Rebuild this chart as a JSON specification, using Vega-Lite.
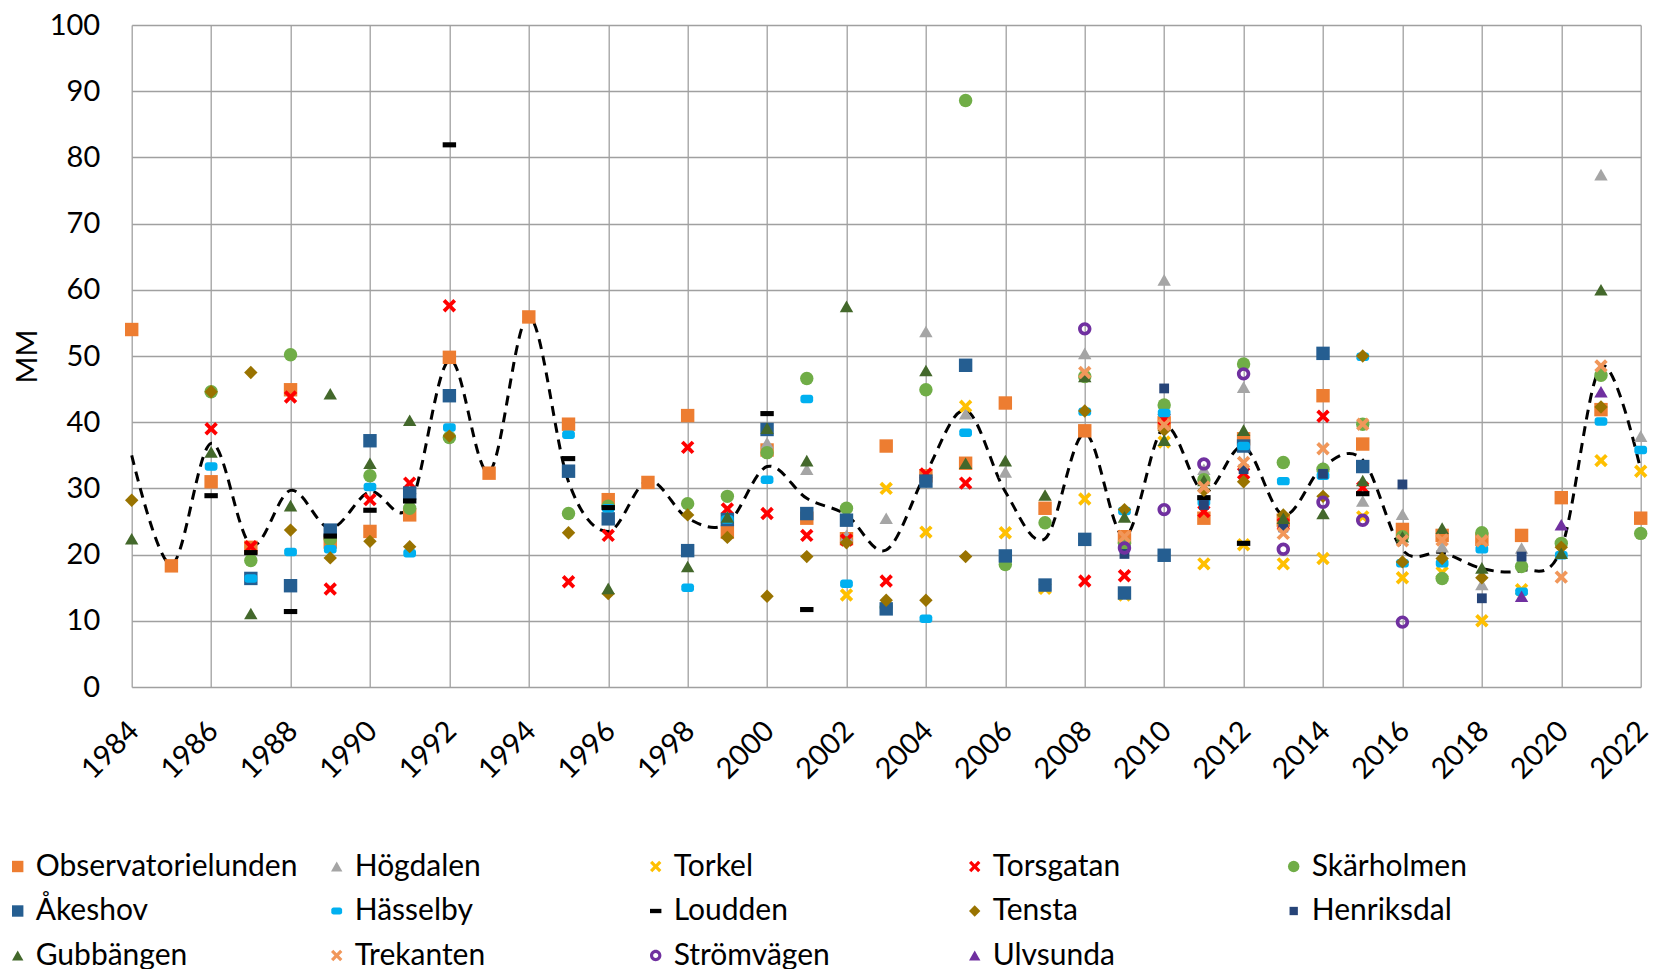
{
  "$schema": "https://vega.github.io/schema/vega-lite/v6.json",
  "width": 1509,
  "height": 662,
  "autosize": {"type": "none"},
  "padding": {"left": 131.7, "top": 25, "right": 20.3, "bottom": 282},
  "background": "white",
  "config": {
    "font": "Lato",
    "view": {"stroke": null},
    "axis": {
      "labelFont": "Lato", "labelFontSize": 29, "labelColor": "#000000",
      "titleFont": "Lato", "titleFontSize": 29, "titleColor": "#000000", "titleFontWeight": "normal",
      "gridColor": "#A0A0A0", "gridWidth": 1.3, "domain": false, "ticks": false, "tickSize": 0
    },
    "legend": {"labelFont": "Lato", "labelFontSize": 30, "labelColor": "#000000"}
  },
  "datasets": {
    "trend": [
      {"year": 1984, "mm": 35.0}, {"year": 1985, "mm": 18.5}, {"year": 1986, "mm": 36.8}, {"year": 1987, "mm": 21.5},
      {"year": 1988, "mm": 29.7}, {"year": 1989, "mm": 24.0}, {"year": 1990, "mm": 29.5}, {"year": 1991, "mm": 27.3},
      {"year": 1992, "mm": 49.4}, {"year": 1993, "mm": 32.5}, {"year": 1994, "mm": 56.0}, {"year": 1995, "mm": 31.0},
      {"year": 1996, "mm": 23.5}, {"year": 1997, "mm": 31.2}, {"year": 1998, "mm": 25.5}, {"year": 1999, "mm": 24.7},
      {"year": 2000, "mm": 33.3}, {"year": 2001, "mm": 28.5}, {"year": 2002, "mm": 26.0}, {"year": 2003, "mm": 20.7},
      {"year": 2004, "mm": 32.3}, {"year": 2005, "mm": 41.8}, {"year": 2006, "mm": 29.5}, {"year": 2007, "mm": 22.4},
      {"year": 2008, "mm": 38.3}, {"year": 2009, "mm": 22.7}, {"year": 2010, "mm": 39.3}, {"year": 2011, "mm": 29.5},
      {"year": 2012, "mm": 36.3}, {"year": 2013, "mm": 26.0}, {"year": 2014, "mm": 33.3}, {"year": 2015, "mm": 34.3},
      {"year": 2016, "mm": 20.7}, {"year": 2017, "mm": 20.3}, {"year": 2018, "mm": 17.9}, {"year": 2019, "mm": 17.6},
      {"year": 2020, "mm": 20.9}, {"year": 2021, "mm": 48.4}, {"year": 2022, "mm": 32.8}
    ],
    "pts": [
      {"station": "Observatorielunden", "year": 1984, "mm": 54.0},
      {"station": "Observatorielunden", "year": 1985, "mm": 18.3},
      {"station": "Observatorielunden", "year": 1986, "mm": 31.0},
      {"station": "Observatorielunden", "year": 1987, "mm": 21.1},
      {"station": "Observatorielunden", "year": 1988, "mm": 44.9},
      {"station": "Observatorielunden", "year": 1989, "mm": 21.9},
      {"station": "Observatorielunden", "year": 1990, "mm": 23.5},
      {"station": "Observatorielunden", "year": 1991, "mm": 26.0},
      {"station": "Observatorielunden", "year": 1992, "mm": 49.8},
      {"station": "Observatorielunden", "year": 1993, "mm": 32.3},
      {"station": "Observatorielunden", "year": 1994, "mm": 55.9},
      {"station": "Observatorielunden", "year": 1995, "mm": 39.7},
      {"station": "Observatorielunden", "year": 1996, "mm": 28.3},
      {"station": "Observatorielunden", "year": 1997, "mm": 30.9},
      {"station": "Observatorielunden", "year": 1998, "mm": 41.0},
      {"station": "Observatorielunden", "year": 1999, "mm": 23.4},
      {"station": "Observatorielunden", "year": 2000, "mm": 35.8},
      {"station": "Observatorielunden", "year": 2001, "mm": 25.5},
      {"station": "Observatorielunden", "year": 2002, "mm": 22.4},
      {"station": "Observatorielunden", "year": 2003, "mm": 36.4},
      {"station": "Observatorielunden", "year": 2004, "mm": 31.9},
      {"station": "Observatorielunden", "year": 2005, "mm": 33.8},
      {"station": "Observatorielunden", "year": 2006, "mm": 42.9},
      {"station": "Observatorielunden", "year": 2007, "mm": 27.0},
      {"station": "Observatorielunden", "year": 2008, "mm": 38.7},
      {"station": "Observatorielunden", "year": 2009, "mm": 22.7},
      {"station": "Observatorielunden", "year": 2010, "mm": 39.9},
      {"station": "Observatorielunden", "year": 2011, "mm": 25.5},
      {"station": "Observatorielunden", "year": 2012, "mm": 37.5},
      {"station": "Observatorielunden", "year": 2013, "mm": 25.2},
      {"station": "Observatorielunden", "year": 2014, "mm": 44.0},
      {"station": "Observatorielunden", "year": 2015, "mm": 36.7},
      {"station": "Observatorielunden", "year": 2016, "mm": 23.8},
      {"station": "Observatorielunden", "year": 2017, "mm": 22.9},
      {"station": "Observatorielunden", "year": 2018, "mm": 22.3},
      {"station": "Observatorielunden", "year": 2019, "mm": 22.9},
      {"station": "Observatorielunden", "year": 2020, "mm": 28.6},
      {"station": "Observatorielunden", "year": 2021, "mm": 41.9},
      {"station": "Observatorielunden", "year": 2022, "mm": 25.5},

      {"station": "Högdalen", "year": 2000, "mm": 36.9},
      {"station": "Högdalen", "year": 2001, "mm": 32.9},
      {"station": "Högdalen", "year": 2002, "mm": 22.9},
      {"station": "Högdalen", "year": 2003, "mm": 25.5},
      {"station": "Högdalen", "year": 2004, "mm": 53.7},
      {"station": "Högdalen", "year": 2005, "mm": 41.3},
      {"station": "Högdalen", "year": 2006, "mm": 32.5},
      {"station": "Högdalen", "year": 2008, "mm": 50.4},
      {"station": "Högdalen", "year": 2010, "mm": 61.5},
      {"station": "Högdalen", "year": 2011, "mm": 32.9},
      {"station": "Högdalen", "year": 2012, "mm": 45.3},
      {"station": "Högdalen", "year": 2014, "mm": 33.3},
      {"station": "Högdalen", "year": 2015, "mm": 28.1},
      {"station": "Högdalen", "year": 2016, "mm": 26.1},
      {"station": "Högdalen", "year": 2017, "mm": 21.2},
      {"station": "Högdalen", "year": 2018, "mm": 15.5},
      {"station": "Högdalen", "year": 2019, "mm": 21.0},
      {"station": "Högdalen", "year": 2021, "mm": 77.4},
      {"station": "Högdalen", "year": 2022, "mm": 37.9},

      {"station": "Torkel", "year": 2002, "mm": 13.9},
      {"station": "Torkel", "year": 2003, "mm": 30.0},
      {"station": "Torkel", "year": 2004, "mm": 23.4},
      {"station": "Torkel", "year": 2005, "mm": 42.4},
      {"station": "Torkel", "year": 2006, "mm": 23.3},
      {"station": "Torkel", "year": 2007, "mm": 14.9},
      {"station": "Torkel", "year": 2008, "mm": 28.4},
      {"station": "Torkel", "year": 2009, "mm": 13.9},
      {"station": "Torkel", "year": 2010, "mm": 37.0},
      {"station": "Torkel", "year": 2011, "mm": 18.6},
      {"station": "Torkel", "year": 2012, "mm": 21.5},
      {"station": "Torkel", "year": 2013, "mm": 18.6},
      {"station": "Torkel", "year": 2014, "mm": 19.4},
      {"station": "Torkel", "year": 2015, "mm": 25.7},
      {"station": "Torkel", "year": 2016, "mm": 16.5},
      {"station": "Torkel", "year": 2017, "mm": 17.3},
      {"station": "Torkel", "year": 2018, "mm": 10.0},
      {"station": "Torkel", "year": 2019, "mm": 14.7},
      {"station": "Torkel", "year": 2021, "mm": 34.2},
      {"station": "Torkel", "year": 2022, "mm": 32.6},

      {"station": "Torsgatan", "year": 1986, "mm": 39.0},
      {"station": "Torsgatan", "year": 1987, "mm": 21.2},
      {"station": "Torsgatan", "year": 1988, "mm": 43.8},
      {"station": "Torsgatan", "year": 1989, "mm": 14.8},
      {"station": "Torsgatan", "year": 1990, "mm": 28.3},
      {"station": "Torsgatan", "year": 1991, "mm": 30.8},
      {"station": "Torsgatan", "year": 1992, "mm": 57.6},
      {"station": "Torsgatan", "year": 1995, "mm": 15.9},
      {"station": "Torsgatan", "year": 1996, "mm": 22.9},
      {"station": "Torsgatan", "year": 1998, "mm": 36.2},
      {"station": "Torsgatan", "year": 1999, "mm": 26.9},
      {"station": "Torsgatan", "year": 2000, "mm": 26.2},
      {"station": "Torsgatan", "year": 2001, "mm": 22.9},
      {"station": "Torsgatan", "year": 2002, "mm": 22.2},
      {"station": "Torsgatan", "year": 2003, "mm": 16.0},
      {"station": "Torsgatan", "year": 2004, "mm": 32.2},
      {"station": "Torsgatan", "year": 2005, "mm": 30.8},
      {"station": "Torsgatan", "year": 2008, "mm": 16.0},
      {"station": "Torsgatan", "year": 2009, "mm": 16.8},
      {"station": "Torsgatan", "year": 2010, "mm": 40.5},
      {"station": "Torsgatan", "year": 2011, "mm": 26.5},
      {"station": "Torsgatan", "year": 2012, "mm": 32.3},
      {"station": "Torsgatan", "year": 2013, "mm": 24.6},
      {"station": "Torsgatan", "year": 2014, "mm": 40.9},
      {"station": "Torsgatan", "year": 2015, "mm": 30.1},

      {"station": "Skärholmen", "year": 1986, "mm": 44.6},
      {"station": "Skärholmen", "year": 1987, "mm": 19.1},
      {"station": "Skärholmen", "year": 1988, "mm": 50.2},
      {"station": "Skärholmen", "year": 1989, "mm": 22.3},
      {"station": "Skärholmen", "year": 1990, "mm": 31.9},
      {"station": "Skärholmen", "year": 1991, "mm": 27.0},
      {"station": "Skärholmen", "year": 1992, "mm": 37.7},
      {"station": "Skärholmen", "year": 1995, "mm": 26.2},
      {"station": "Skärholmen", "year": 1996, "mm": 27.3},
      {"station": "Skärholmen", "year": 1998, "mm": 27.7},
      {"station": "Skärholmen", "year": 1999, "mm": 28.8},
      {"station": "Skärholmen", "year": 2000, "mm": 35.4},
      {"station": "Skärholmen", "year": 2001, "mm": 46.6},
      {"station": "Skärholmen", "year": 2002, "mm": 27.0},
      {"station": "Skärholmen", "year": 2003, "mm": 12.1},
      {"station": "Skärholmen", "year": 2004, "mm": 44.9},
      {"station": "Skärholmen", "year": 2005, "mm": 88.6},
      {"station": "Skärholmen", "year": 2006, "mm": 18.5},
      {"station": "Skärholmen", "year": 2007, "mm": 24.8},
      {"station": "Skärholmen", "year": 2008, "mm": 46.9},
      {"station": "Skärholmen", "year": 2009, "mm": 21.7},
      {"station": "Skärholmen", "year": 2010, "mm": 42.6},
      {"station": "Skärholmen", "year": 2011, "mm": 31.3},
      {"station": "Skärholmen", "year": 2012, "mm": 48.8},
      {"station": "Skärholmen", "year": 2013, "mm": 33.9},
      {"station": "Skärholmen", "year": 2014, "mm": 32.9},
      {"station": "Skärholmen", "year": 2015, "mm": 39.7},
      {"station": "Skärholmen", "year": 2016, "mm": 22.7},
      {"station": "Skärholmen", "year": 2017, "mm": 16.4},
      {"station": "Skärholmen", "year": 2018, "mm": 23.3},
      {"station": "Skärholmen", "year": 2019, "mm": 18.2},
      {"station": "Skärholmen", "year": 2020, "mm": 21.7},
      {"station": "Skärholmen", "year": 2021, "mm": 47.1},
      {"station": "Skärholmen", "year": 2022, "mm": 23.2},

      {"station": "Åkeshov", "year": 1987, "mm": 16.4},
      {"station": "Åkeshov", "year": 1988, "mm": 15.3},
      {"station": "Åkeshov", "year": 1989, "mm": 23.7},
      {"station": "Åkeshov", "year": 1990, "mm": 37.2},
      {"station": "Åkeshov", "year": 1991, "mm": 29.3},
      {"station": "Åkeshov", "year": 1992, "mm": 44.0},
      {"station": "Åkeshov", "year": 1995, "mm": 32.6},
      {"station": "Åkeshov", "year": 1996, "mm": 25.4},
      {"station": "Åkeshov", "year": 1998, "mm": 20.6},
      {"station": "Åkeshov", "year": 1999, "mm": 25.3},
      {"station": "Åkeshov", "year": 2000, "mm": 38.9},
      {"station": "Åkeshov", "year": 2001, "mm": 26.2},
      {"station": "Åkeshov", "year": 2002, "mm": 25.2},
      {"station": "Åkeshov", "year": 2003, "mm": 11.8},
      {"station": "Åkeshov", "year": 2004, "mm": 31.1},
      {"station": "Åkeshov", "year": 2005, "mm": 48.6},
      {"station": "Åkeshov", "year": 2006, "mm": 19.8},
      {"station": "Åkeshov", "year": 2007, "mm": 15.4},
      {"station": "Åkeshov", "year": 2008, "mm": 22.3},
      {"station": "Åkeshov", "year": 2009, "mm": 14.2},
      {"station": "Åkeshov", "year": 2010, "mm": 19.9},
      {"station": "Åkeshov", "year": 2012, "mm": 36.4},
      {"station": "Åkeshov", "year": 2014, "mm": 50.4},
      {"station": "Åkeshov", "year": 2015, "mm": 33.3},

      {"station": "Hässelby", "year": 1986, "mm": 33.3},
      {"station": "Hässelby", "year": 1987, "mm": 16.4},
      {"station": "Hässelby", "year": 1988, "mm": 20.4},
      {"station": "Hässelby", "year": 1989, "mm": 20.8},
      {"station": "Hässelby", "year": 1990, "mm": 30.2},
      {"station": "Hässelby", "year": 1991, "mm": 20.2},
      {"station": "Hässelby", "year": 1992, "mm": 39.2},
      {"station": "Hässelby", "year": 1995, "mm": 38.1},
      {"station": "Hässelby", "year": 1996, "mm": 27.0},
      {"station": "Hässelby", "year": 1998, "mm": 15.0},
      {"station": "Hässelby", "year": 1999, "mm": 25.3},
      {"station": "Hässelby", "year": 2000, "mm": 31.3},
      {"station": "Hässelby", "year": 2001, "mm": 43.5},
      {"station": "Hässelby", "year": 2002, "mm": 15.6},
      {"station": "Hässelby", "year": 2004, "mm": 10.3},
      {"station": "Hässelby", "year": 2005, "mm": 38.4},
      {"station": "Hässelby", "year": 2008, "mm": 41.6},
      {"station": "Hässelby", "year": 2009, "mm": 26.6},
      {"station": "Hässelby", "year": 2010, "mm": 41.4},
      {"station": "Hässelby", "year": 2011, "mm": 27.9},
      {"station": "Hässelby", "year": 2012, "mm": 36.4},
      {"station": "Hässelby", "year": 2013, "mm": 31.1},
      {"station": "Hässelby", "year": 2014, "mm": 31.9},
      {"station": "Hässelby", "year": 2015, "mm": 49.9},
      {"station": "Hässelby", "year": 2016, "mm": 18.7},
      {"station": "Hässelby", "year": 2017, "mm": 18.7},
      {"station": "Hässelby", "year": 2018, "mm": 20.8},
      {"station": "Hässelby", "year": 2019, "mm": 14.4},
      {"station": "Hässelby", "year": 2020, "mm": 19.9},
      {"station": "Hässelby", "year": 2021, "mm": 40.1},
      {"station": "Hässelby", "year": 2022, "mm": 35.8},

      {"station": "Loudden", "year": 1986, "mm": 28.9},
      {"station": "Loudden", "year": 1987, "mm": 20.3},
      {"station": "Loudden", "year": 1988, "mm": 11.4},
      {"station": "Loudden", "year": 1989, "mm": 22.8},
      {"station": "Loudden", "year": 1990, "mm": 26.7},
      {"station": "Loudden", "year": 1991, "mm": 28.1},
      {"station": "Loudden", "year": 1992, "mm": 81.9},
      {"station": "Loudden", "year": 1995, "mm": 34.5},
      {"station": "Loudden", "year": 1996, "mm": 27.1},
      {"station": "Loudden", "year": 2000, "mm": 41.3},
      {"station": "Loudden", "year": 2001, "mm": 11.7},
      {"station": "Loudden", "year": 2011, "mm": 28.6},
      {"station": "Loudden", "year": 2012, "mm": 21.7},
      {"station": "Loudden", "year": 2015, "mm": 29.2},

      {"station": "Tensta", "year": 1984, "mm": 28.2},
      {"station": "Tensta", "year": 1986, "mm": 44.6},
      {"station": "Tensta", "year": 1987, "mm": 47.5},
      {"station": "Tensta", "year": 1988, "mm": 23.7},
      {"station": "Tensta", "year": 1989, "mm": 19.5},
      {"station": "Tensta", "year": 1990, "mm": 22.0},
      {"station": "Tensta", "year": 1991, "mm": 21.2},
      {"station": "Tensta", "year": 1992, "mm": 37.9},
      {"station": "Tensta", "year": 1995, "mm": 23.3},
      {"station": "Tensta", "year": 1996, "mm": 14.1},
      {"station": "Tensta", "year": 1998, "mm": 26.0},
      {"station": "Tensta", "year": 1999, "mm": 22.6},
      {"station": "Tensta", "year": 2000, "mm": 13.7},
      {"station": "Tensta", "year": 2001, "mm": 19.7},
      {"station": "Tensta", "year": 2002, "mm": 21.8},
      {"station": "Tensta", "year": 2003, "mm": 13.1},
      {"station": "Tensta", "year": 2004, "mm": 13.1},
      {"station": "Tensta", "year": 2005, "mm": 19.7},
      {"station": "Tensta", "year": 2008, "mm": 41.7},
      {"station": "Tensta", "year": 2009, "mm": 26.8},
      {"station": "Tensta", "year": 2010, "mm": 38.8},
      {"station": "Tensta", "year": 2011, "mm": 29.7},
      {"station": "Tensta", "year": 2012, "mm": 31.0},
      {"station": "Tensta", "year": 2013, "mm": 26.0},
      {"station": "Tensta", "year": 2014, "mm": 28.8},
      {"station": "Tensta", "year": 2015, "mm": 50.0},
      {"station": "Tensta", "year": 2016, "mm": 18.9},
      {"station": "Tensta", "year": 2017, "mm": 19.4},
      {"station": "Tensta", "year": 2018, "mm": 16.5},
      {"station": "Tensta", "year": 2020, "mm": 21.1},
      {"station": "Tensta", "year": 2021, "mm": 42.3},

      {"station": "Henriksdal", "year": 2009, "mm": 20.1},
      {"station": "Henriksdal", "year": 2010, "mm": 45.1},
      {"station": "Henriksdal", "year": 2011, "mm": 27.5},
      {"station": "Henriksdal", "year": 2012, "mm": 32.9},
      {"station": "Henriksdal", "year": 2013, "mm": 24.1},
      {"station": "Henriksdal", "year": 2014, "mm": 32.2},
      {"station": "Henriksdal", "year": 2016, "mm": 30.6},
      {"station": "Henriksdal", "year": 2018, "mm": 13.4},
      {"station": "Henriksdal", "year": 2019, "mm": 19.7},

      {"station": "Gubbängen", "year": 1984, "mm": 22.4},
      {"station": "Gubbängen", "year": 1986, "mm": 35.5},
      {"station": "Gubbängen", "year": 1987, "mm": 11.1},
      {"station": "Gubbängen", "year": 1988, "mm": 27.4},
      {"station": "Gubbängen", "year": 1989, "mm": 44.3},
      {"station": "Gubbängen", "year": 1990, "mm": 33.8},
      {"station": "Gubbängen", "year": 1991, "mm": 40.3},
      {"station": "Gubbängen", "year": 1996, "mm": 14.9},
      {"station": "Gubbängen", "year": 1998, "mm": 18.2},
      {"station": "Gubbängen", "year": 1999, "mm": 25.7},
      {"station": "Gubbängen", "year": 2000, "mm": 39.1},
      {"station": "Gubbängen", "year": 2001, "mm": 34.2},
      {"station": "Gubbängen", "year": 2002, "mm": 57.5},
      {"station": "Gubbängen", "year": 2004, "mm": 47.8},
      {"station": "Gubbängen", "year": 2005, "mm": 33.8},
      {"station": "Gubbängen", "year": 2006, "mm": 34.2},
      {"station": "Gubbängen", "year": 2007, "mm": 29.0},
      {"station": "Gubbängen", "year": 2008, "mm": 46.9},
      {"station": "Gubbängen", "year": 2009, "mm": 25.7},
      {"station": "Gubbängen", "year": 2010, "mm": 37.3},
      {"station": "Gubbängen", "year": 2011, "mm": 31.2},
      {"station": "Gubbängen", "year": 2012, "mm": 38.8},
      {"station": "Gubbängen", "year": 2013, "mm": 25.5},
      {"station": "Gubbängen", "year": 2014, "mm": 26.2},
      {"station": "Gubbängen", "year": 2015, "mm": 31.2},
      {"station": "Gubbängen", "year": 2016, "mm": 22.7},
      {"station": "Gubbängen", "year": 2017, "mm": 24.0},
      {"station": "Gubbängen", "year": 2018, "mm": 18.0},
      {"station": "Gubbängen", "year": 2020, "mm": 20.2},
      {"station": "Gubbängen", "year": 2021, "mm": 60.0},

      {"station": "Trekanten", "year": 2008, "mm": 47.5},
      {"station": "Trekanten", "year": 2009, "mm": 22.7},
      {"station": "Trekanten", "year": 2010, "mm": 39.6},
      {"station": "Trekanten", "year": 2011, "mm": 30.2},
      {"station": "Trekanten", "year": 2012, "mm": 33.9},
      {"station": "Trekanten", "year": 2013, "mm": 23.2},
      {"station": "Trekanten", "year": 2014, "mm": 36.0},
      {"station": "Trekanten", "year": 2015, "mm": 39.7},
      {"station": "Trekanten", "year": 2016, "mm": 22.1},
      {"station": "Trekanten", "year": 2017, "mm": 22.2},
      {"station": "Trekanten", "year": 2018, "mm": 22.1},
      {"station": "Trekanten", "year": 2020, "mm": 16.6},
      {"station": "Trekanten", "year": 2021, "mm": 48.5},

      {"station": "Strömvägen", "year": 2008, "mm": 54.1},
      {"station": "Strömvägen", "year": 2009, "mm": 21.0},
      {"station": "Strömvägen", "year": 2010, "mm": 26.8},
      {"station": "Strömvägen", "year": 2011, "mm": 33.7},
      {"station": "Strömvägen", "year": 2012, "mm": 47.3},
      {"station": "Strömvägen", "year": 2013, "mm": 20.8},
      {"station": "Strömvägen", "year": 2014, "mm": 27.9},
      {"station": "Strömvägen", "year": 2015, "mm": 25.2},
      {"station": "Strömvägen", "year": 2016, "mm": 9.8},

      {"station": "Ulvsunda", "year": 2019, "mm": 13.7},
      {"station": "Ulvsunda", "year": 2020, "mm": 24.5},
      {"station": "Ulvsunda", "year": 2021, "mm": 44.6}
    ]
  },
  "layer": [
    {
      "data": {"name": "trend"},
      "mark": {"type": "line", "interpolate": "cardinal", "color": "#000000", "strokeWidth": 3, "strokeDash": [10, 7]},
      "encoding": {
        "x": {"field": "year", "type": "quantitative", "scale": {"domain": [1984, 2022], "nice": false, "zero": false},
          "axis": {"values": [1984,1986,1988,1990,1992,1994,1996,1998,2000,2002,2004,2006,2008,2010,2012,2014,2016,2018,2020,2022],
            "format": "d", "title": null, "labelAngle": -45, "labelAlign": "right", "labelBaseline": "middle", "labelPadding": 39, "labelOffset": 2, "grid": true}},
        "y": {"field": "mm", "type": "quantitative", "scale": {"domain": [0, 100], "nice": false},
          "axis": {"values": [0,10,20,30,40,50,60,70,80,90,100], "title": "MM", "labelPadding": 32,
            "titleX": -104, "titleY": 331, "titleAngle": -90, "titleAlign": "center", "titleBaseline": "middle", "grid": true}}
      }
    },
    {
      "data": {"name": "pts"},
      "mark": {"type": "point", "filled": true, "size": 180, "opacity": 1, "strokeWidth": 0},
      "encoding": {
        "x": {"field": "year", "type": "quantitative"},
        "y": {"field": "mm", "type": "quantitative"},
        "color": {"field": "station", "type": "nominal",
          "scale": {
            "domain": ["Observatorielunden","Högdalen","Torkel","Torsgatan","Skärholmen","Åkeshov","Hässelby","Loudden","Tensta","Henriksdal","Gubbängen","Trekanten","Strömvägen","Ulvsunda"],
            "range": ["#ED7D31","#A5A5A5","#FFC000","#FF0000","#70AD47","#255E91","#00B0F0","#000000","#997300","#264478","#43682B","#F1975A","#7030A0","#7030A0"]
          },
          "legend": {"title": null, "orient": "none", "legendX": -129, "legendY": 826.5, "columns": 5, "direction": "horizontal",
            "gridAlign": "all", "columnPadding": 24, "rowPadding": 14.5, "labelLimit": 500, "labelOffset": 3, "symbolSize": 130,
            "symbolStrokeWidth": 0, "padding": 0, "labelFontSize": 30}
        },
        "shape": {"field": "station", "type": "nominal",
          "scale": {
            "domain": ["Observatorielunden","Högdalen","Torkel","Torsgatan","Skärholmen","Åkeshov","Hässelby","Loudden","Tensta","Henriksdal","Gubbängen","Trekanten","Strömvägen","Ulvsunda"],
            "range": [
              "square",
              "triangle-up",
              "M0,-0.4 L0.6,-1 L1,-0.6 L0.4,0 L1,0.6 L0.6,1 L0,0.4 L-0.6,1 L-1,0.6 L-0.4,0 L-1,-0.6 L-0.6,-1 Z",
              "M0,-0.4 L0.6,-1 L1,-0.6 L0.4,0 L1,0.6 L0.6,1 L0,0.4 L-0.6,1 L-1,0.6 L-0.4,0 L-1,-0.6 L-0.6,-1 Z",
              "circle",
              "square",
              "M-0.55,-0.63 L0.55,-0.63 A0.4,0.4 0 0 1 0.95,-0.23 L0.95,0.23 A0.4,0.4 0 0 1 0.55,0.63 L-0.55,0.63 A0.4,0.4 0 0 1 -0.95,0.23 L-0.95,-0.23 A0.4,0.4 0 0 1 -0.55,-0.63 Z",
              "M-1,-0.38 L1,-0.38 L1,0.38 L-1,0.38 Z",
              "M0,-1 L1,0 L0,1 L-1,0 Z",
              "M-0.73,-0.73 L0.73,-0.73 L0.73,0.73 L-0.73,0.73 Z",
              "triangle-up",
              "M0,-0.4 L0.6,-1 L1,-0.6 L0.4,0 L1,0.6 L0.6,1 L0,0.4 L-0.6,1 L-1,0.6 L-0.4,0 L-1,-0.6 L-0.6,-1 Z",
              "M0,-1 A1,1 0 1,1 0,1 A1,1 0 1,1 0,-1 Z M0,-0.45 A0.45,0.45 0 1,0 0,0.45 A0.45,0.45 0 1,0 0,-0.45 Z",
              "triangle-up"
            ]
          },
          "legend": {"title": null}
        }
      }
    }
  ]
}
